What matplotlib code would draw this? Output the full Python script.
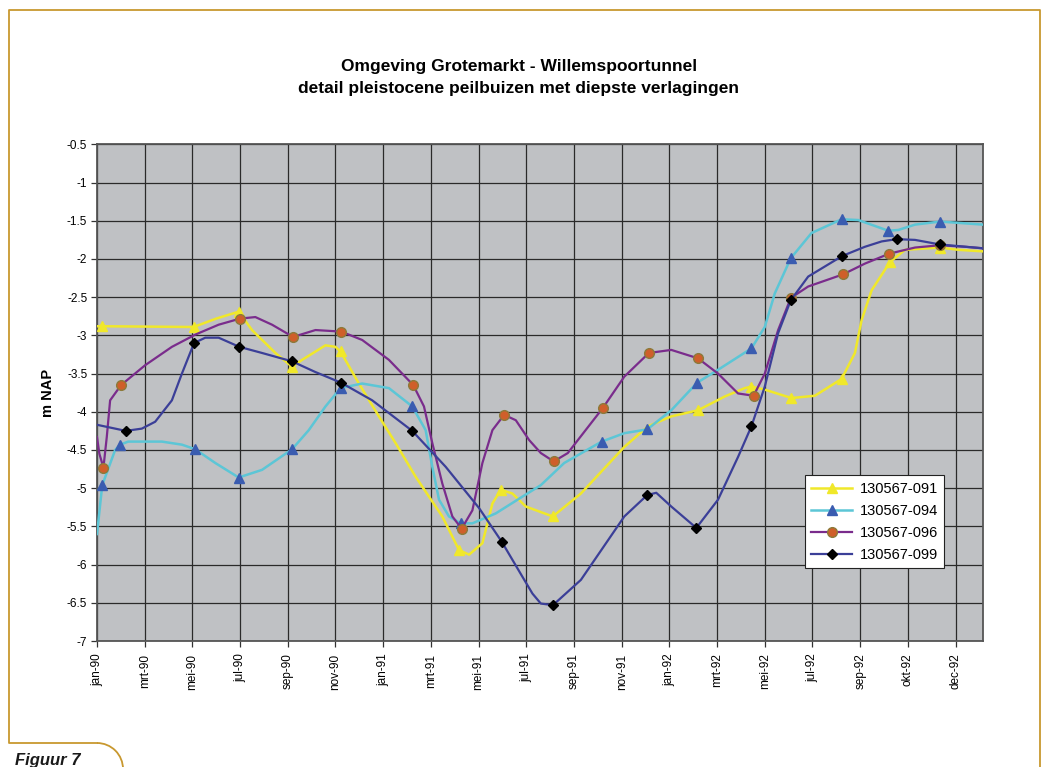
import matplotlib
matplotlib.use("Agg")
import matplotlib.pyplot as plt
from matplotlib.lines import Line2D
from matplotlib.patches import Arc

plt.rcParams['font.family'] = ['Liberation Sans', 'DejaVu Sans']

# months since jan-90
tick_labels = ['jan-90', 'mrt-90', 'mei-90', 'jul-90', 'sep-90', 'nov-90',
               'jan-91', 'mrt-91', 'mei-91', 'jul-91', 'sep-91', 'nov-91',
               'jan-92', 'mrt-92', 'mei-92', 'jul-92', 'sep-92', 'okt-92', 'dec-92']
tick_pos = [2 * i for i in range(len(tick_labels))]

x_091 = [0.0, 0.22, 4.05, 5.0, 5.94, 6.50, 7.48, 8.18, 8.60, 9.58, 10.0, 10.21,
         10.98, 11.82, 12.52, 13.36, 14.48, 15.18, 15.60, 16.16, 16.58, 16.93,
         17.42, 17.98, 19.11, 20.29, 22.11, 23.10, 24.08, 25.20, 26.32, 27.16,
         27.44, 28.0, 29.12, 30.10, 31.22, 31.78, 32.06, 32.48, 33.25, 33.88,
         35.35, 36.12, 37.15]
y_091 = [-2.88, -2.88, -2.89, -2.78, -2.69, -2.93, -3.23, -3.41, -3.32, -3.13, -3.15, -3.21,
         -3.63, -4.06, -4.41, -4.85, -5.37, -5.81, -5.87, -5.72, -5.20, -5.02,
         -5.07, -5.24, -5.37, -5.07, -4.46, -4.19, -4.06, -3.98, -3.80, -3.69,
         -3.67, -3.71, -3.82, -3.79, -3.57, -3.23, -2.80, -2.41, -2.04, -1.88,
         -1.85, -1.88, -1.90]
mk_091 = [1, 2, 4, 7, 11, 17, 21, 24, 29, 32, 34, 36, 40, 42]

x_094 = [0.0, 0.22, 0.76, 0.97, 1.31, 2.72, 3.56, 4.12, 4.96, 5.94, 6.92, 8.18,
         8.88, 9.58, 10.21, 11.12, 12.24, 13.22, 13.78, 14.06, 14.34, 14.76,
         15.25, 15.74, 16.72, 17.84, 18.61, 19.59, 21.16, 22.11, 23.07, 24.08,
         25.16, 26.04, 27.44, 28.0, 28.42, 29.09, 29.96, 31.22, 31.92, 33.18,
         33.60, 34.30, 35.35, 37.15]
y_094 = [-5.6, -4.96, -4.5, -4.43, -4.39, -4.39, -4.43, -4.49, -4.67, -4.86, -4.76, -4.49,
         -4.24, -3.93, -3.69, -3.63, -3.69, -3.93, -4.24, -4.72, -5.15, -5.37,
         -5.46, -5.46, -5.33, -5.11, -4.96, -4.67, -4.39, -4.28, -4.23, -3.98,
         -3.62, -3.45, -3.17, -2.89, -2.45, -1.99, -1.66, -1.48, -1.49, -1.63,
         -1.62, -1.55, -1.51, -1.55]
mk_094 = [1, 3, 7, 9, 11, 14, 17, 22, 28, 30, 32, 34, 37, 39, 41, 44]

x_096 = [0.0, 0.10, 0.27, 0.41, 0.55, 1.01, 2.02, 3.14, 4.12, 5.10, 6.0, 6.64,
         7.34, 8.22, 9.16, 10.24, 11.12, 12.24, 13.26, 13.71, 14.06, 14.48,
         14.90, 15.29, 15.74, 16.16, 16.58, 17.07, 17.56, 18.12, 18.61, 19.15,
         19.74, 21.21, 22.11, 23.14, 24.08, 25.20, 26.04, 26.88, 27.53, 28.0,
         28.56, 29.09, 29.82, 31.29, 32.20, 33.22, 34.30, 35.35, 36.40, 37.15]
y_096 = [-4.33, -4.55, -4.73, -4.33, -3.85, -3.65, -3.39, -3.15, -2.99, -2.86, -2.78, -2.76,
         -2.86, -3.02, -2.93, -2.95, -3.06, -3.32, -3.65, -3.93, -4.41, -4.94,
         -5.37, -5.53, -5.29, -4.67, -4.24, -4.04, -4.11, -4.37, -4.54, -4.65,
         -4.54, -3.95, -3.54, -3.23, -3.19, -3.30, -3.50, -3.76, -3.79, -3.50,
         -2.93, -2.51, -2.36, -2.20, -2.06, -1.93, -1.85, -1.82, -1.84, -1.86]
mk_096 = [2, 5, 10, 13, 15, 18, 23, 27, 31, 33, 35, 37, 40, 43, 45, 47, 49]

x_099 = [0.0, 0.76, 1.21, 1.88, 2.44, 3.14, 3.56, 4.07, 4.54, 5.10, 5.97, 6.92,
         8.18, 9.16, 10.24, 11.54, 13.22, 14.62, 16.02, 16.97, 17.84, 18.26,
         18.61, 19.12, 20.29, 22.11, 23.07, 23.45, 24.08, 25.13, 26.04, 26.88,
         27.44, 28.0, 28.56, 29.09, 29.82, 31.25, 32.20, 32.90, 33.53, 34.30,
         35.35, 37.15]
y_099 = [-4.17, -4.22, -4.25, -4.22, -4.13, -3.85, -3.50, -3.10, -3.03, -3.03, -3.15, -3.23,
         -3.34, -3.48, -3.62, -3.85, -4.25, -4.72, -5.26, -5.70, -6.16, -6.38,
         -6.51, -6.53, -6.20, -5.37, -5.09, -5.06, -5.24, -5.52, -5.15, -4.59,
         -4.19, -3.67, -2.97, -2.54, -2.23, -1.96, -1.84, -1.77, -1.74, -1.75,
         -1.81, -1.86]
mk_099 = [2, 7, 10, 12, 14, 16, 19, 23, 26, 29, 32, 35, 37, 40, 42]

W, H = 1045, 767
fig = plt.figure(figsize=(W / 100, H / 100), dpi=100)
fig.patch.set_facecolor('white')

ax = fig.add_axes([97 / W, 1 - 641 / H, 886 / W, 496.6 / H])
ax.set_facecolor('#bfc1c4')

ax.plot(x_091, y_091, color='#f0e82a', lw=1.8, marker='^', ms=7,
        mfc='#f0e82a', mec='#f0e82a', markevery=mk_091, label='130567-091', zorder=3)
ax.plot(x_094, y_094, color='#5cc6d6', lw=1.8, marker='^', ms=7,
        mfc='#3a5cb0', mec='#3a5cb0', markevery=mk_094, label='130567-094', zorder=4)
ax.plot(x_096, y_096, color='#7a2c8c', lw=1.6, marker='o', ms=7,
        mfc='#cf5f2a', mec='#8c7a3a', mew=1.0, markevery=mk_096, label='130567-096', zorder=5)
ax.plot(x_099, y_099, color='#3b3f98', lw=1.6, marker='D', ms=5.5,
        mfc='black', mec='black', markevery=mk_099, label='130567-099', zorder=6)

ax.set_xlim(0, 37.15)
ax.set_ylim(-7, -0.5)
ax.set_xticks(tick_pos)
ax.set_xticklabels(tick_labels, rotation=90, fontsize=8.5)
yt = [-0.5 - 0.5 * i for i in range(14)]
ax.set_yticks(yt)
ax.set_yticklabels(['%g' % v for v in yt], fontsize=8.5)
ax.grid(True, color='#2a2a2a', lw=0.9)
ax.set_axisbelow(True)
ax.tick_params(direction='out', length=4, width=0.9, color='#333333', pad=3)
ax.tick_params(axis='x', pad=5)
for s in ax.spines.values():
    s.set_color('#555555')
    s.set_linewidth(1.3)

leg = ax.legend(loc='upper left', bbox_to_anchor=(0.799, 0.334), fontsize=10.5,
                frameon=True, fancybox=False, handlelength=2.8, borderpad=0.45,
                labelspacing=0.55, handletextpad=0.5, borderaxespad=0)
leg.get_frame().set_edgecolor('#222222')
leg.get_frame().set_linewidth(0.8)
leg.get_frame().set_facecolor('white')
leg.get_frame().set_alpha(1)

fig.text(519 / W, 1 - 66 / H, 'Omgeving Grotemarkt - Willemspoortunnel',
         ha='center', va='center', fontsize=12.5, fontweight='bold')
fig.text(519 / W, 1 - 88 / H, 'detail pleistocene peilbuizen met diepste verlagingen',
         ha='center', va='center', fontsize=12.5, fontweight='bold')
fig.text(48 / W, 1 - 393 / H, 'm NAP', rotation=90, ha='center', va='center',
         fontsize=10.5, fontweight='bold')

# gold page frame
gold = '#c8982f'
fx = lambda p: p / W
fy = lambda p: 1 - p / H
fig.add_artist(Line2D([fx(1040), fx(1040), fx(9), fx(9), fx(97)],
                      [fy(767), fy(10), fy(10), fy(743), fy(743)],
                      color=gold, lw=1.3))
fig.add_artist(Arc((fx(97), fy(769)), 2 * 26 / W, 2 * 26 / H, theta1=0, theta2=90,
                   transform=fig.transFigure, color=gold, lw=1.3))
fig.text(15 / W, fy(765), 'Figuur 7', ha='left', va='baseline', fontsize=12,
         fontweight='bold', style='italic', color='#1a1a1a')

fig.savefig('out.png', dpi=100)
